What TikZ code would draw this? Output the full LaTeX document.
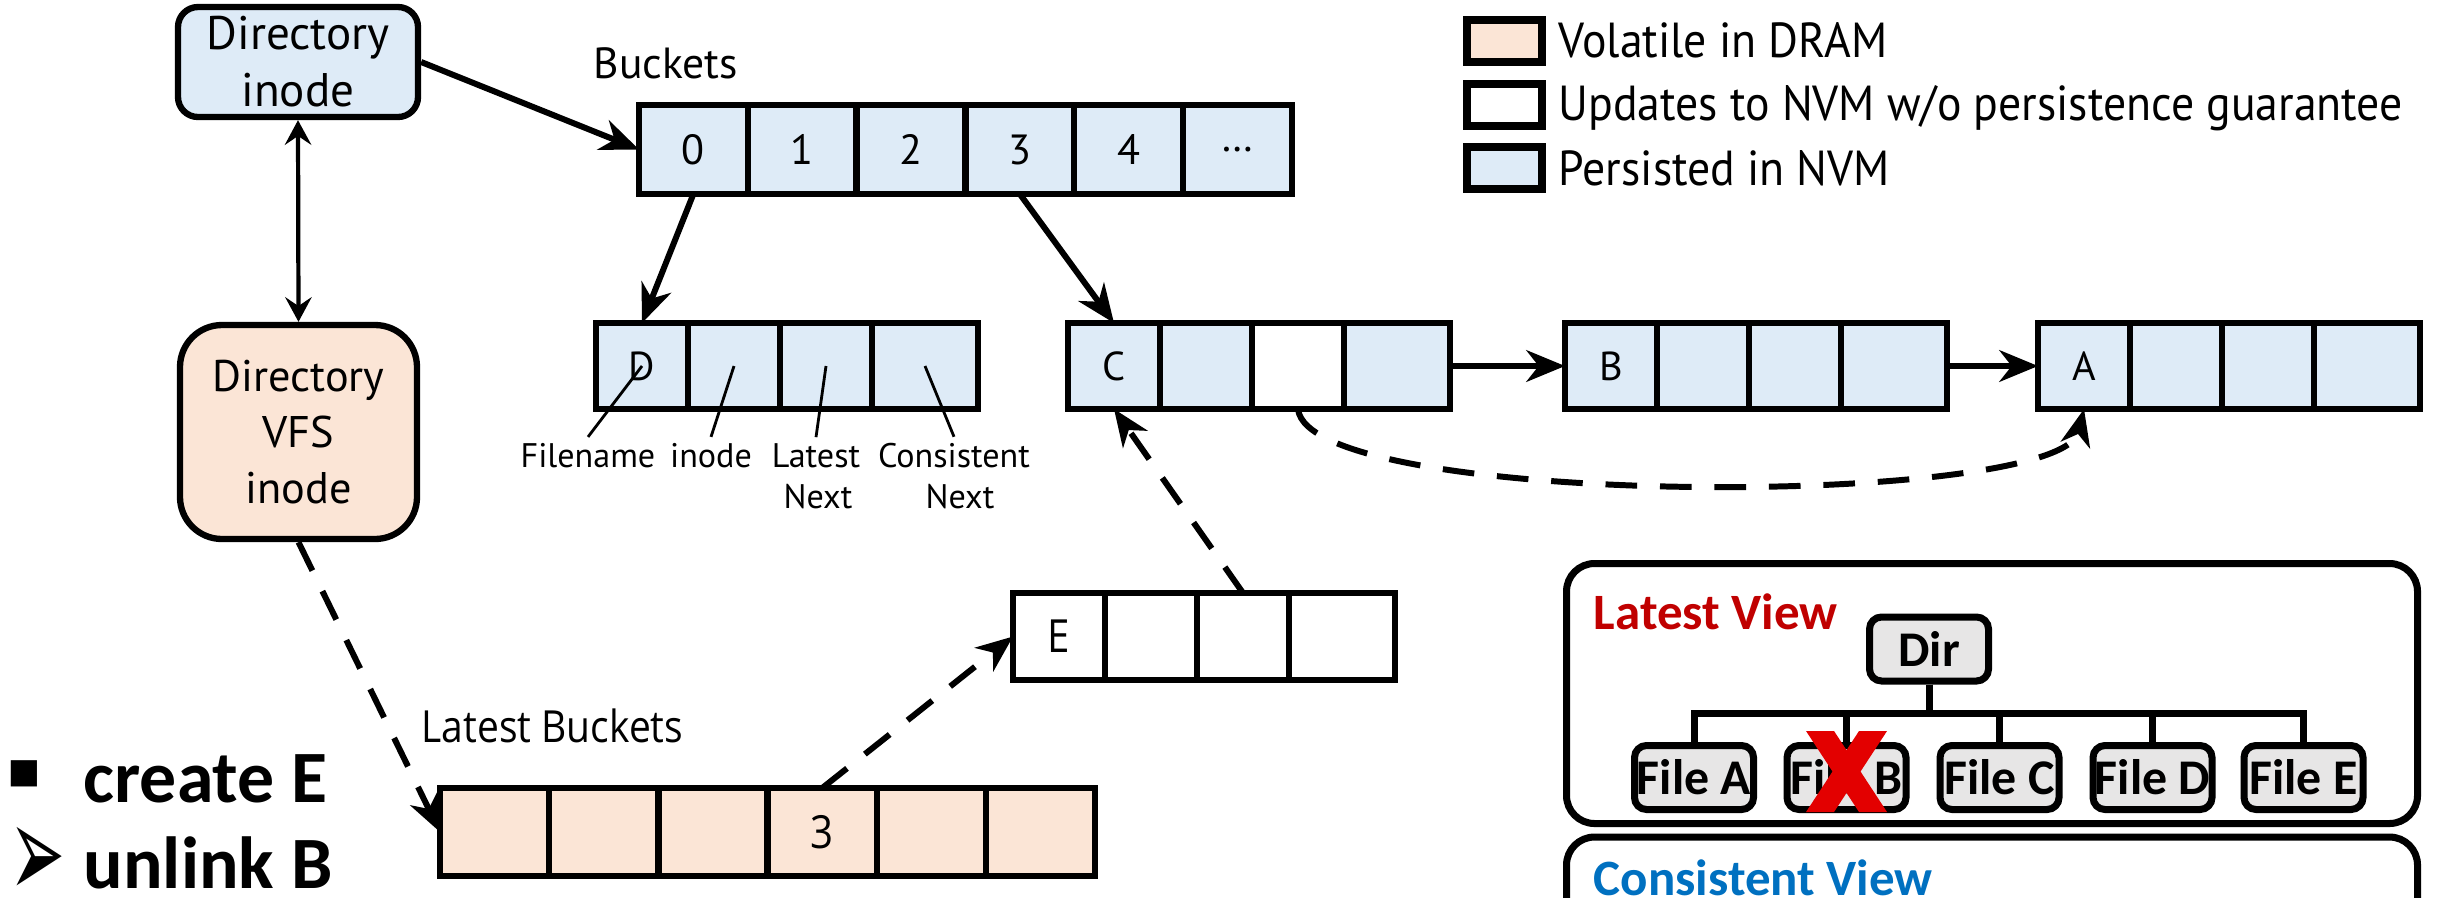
\documentclass[tikz,border=0pt]{standalone}
\usepackage{fontspec}
\setmainfont{PT Sans}
\newfontfamily\legendfont{PT Sans}[FakeStretch=0.93]
\newfontfamily\narrowfont{Open Sans}[FakeStretch=0.88]
\newfontfamily\boldfont{Carlito}
\newfontfamily\symfont{DejaVu Sans}
\usetikzlibrary{arrows.meta}

\definecolor{nvmblue}{HTML}{DEEBF7}
\definecolor{dramorange}{HTML}{FBE5D6}
\definecolor{viewgray}{HTML}{E7E6E6}
\definecolor{latestred}{HTML}{C00000}
\definecolor{consblue}{HTML}{0070C0}
\definecolor{xred}{HTML}{E30000}

\tikzset{
  cellbase/.style={draw, line width=1.8pt, inner sep=0pt, outer sep=0pt,
    anchor=north west, minimum height=0.86cm,
    font=\fontsize{11.5pt}{14pt}\selectfont},
  bcell/.style={cellbase, minimum width=1.088cm, minimum height=0.89cm, fill=nvmblue,
    font=\fontsize{12pt}{14pt}\selectfont},
  lcell/.style={cellbase, minimum width=1.092cm, minimum height=0.88cm, fill=dramorange,
    font=\narrowfont\fontsize{13pt}{15pt}\selectfont},
  ecell/.style={cellbase, minimum width=0.92cm},
  ecellwide/.style={cellbase, minimum width=1.06cm},
  inodebox/.style={draw, line width=1.8pt, align=center, inner sep=0pt,
    font=\fontsize{12.6pt}{16pt}\selectfont},
  lbl/.style={anchor=base, inner sep=1.5pt, font=\fontsize{9.7pt}{12pt}\selectfont},
  leader/.style={line width=0.8pt},
  solidarrow/.style={line width=1.7pt, -{Stealth[length=11pt,width=9pt,inset=3.5pt]}},
  dasharrow/.style={line width=1.7pt, dash pattern=on 9pt off 6.5pt,
    -{Stealth[length=10.5pt,width=8.5pt,inset=3.2pt]}},
  bothways/.style={line width=1.2pt,
    {Stealth[length=7pt,width=7.5pt,inset=2.5pt]}-{Stealth[length=7pt,width=7.5pt,inset=2.5pt]}},
  legbox/.style={draw, line width=2.2pt, minimum width=0.75cm, minimum height=0.42cm, inner sep=0pt},
  legtxt/.style={anchor=base west, inner sep=0pt, font=\legendfont\fontsize{14pt}{17pt}\selectfont},
  panel/.style={draw, line width=2pt, rounded corners=0.28cm, minimum width=8.51cm, inner sep=0pt},
  viewbox/.style={draw, line width=2pt, fill=viewgray, rounded corners=0.12cm,
    minimum width=1.19cm, minimum height=0.64cm, inner sep=0pt,
    font=\boldfont\bfseries\fontsize{14.2pt}{16pt}\selectfont},
  tree/.style={line width=2pt},
  cmdtxt/.style={anchor=base west, inner sep=0pt,
    font=\boldfont\bfseries\fontsize{21pt}{25pt}\selectfont},
  viewtitle/.style={anchor=base west, inner sep=0pt,
    font=\boldfont\bfseries\fontsize{14.5pt}{17pt}\selectfont},
}

\begin{document}
\begin{tikzpicture}
\useasboundingbox (0,0) rectangle (24.4,-8.97);
\clip (0,0) rectangle (24.4,-8.97);

% inodes
\node[inodebox, fill=nvmblue, minimum width=2.40cm, minimum height=1.10cm,
  rounded corners=0.2cm, font=\fontsize{13.4pt}{16.2pt}\selectfont]
  (dirinode) at (2.98,-0.62) {Directory\\inode};
\node[inodebox, fill=dramorange, minimum width=2.37cm, minimum height=2.14cm,
  rounded corners=0.42cm] (vfs) at (2.985,-4.32) {Directory\\VFS\\inode};

% hash buckets persisted in NVM
\node[anchor=base west, inner sep=0pt, font=\fontsize{12.4pt}{15pt}\selectfont]
  (bucketslbl) at (5.93,-0.78) {Buckets};
\node[bcell] (b0) at (6.39,-1.05) {0};
\node[bcell] (b1) at (b0.north east) {1};
\node[bcell] (b2) at (b1.north east) {2};
\node[bcell] (b3) at (b2.north east) {3};
\node[bcell] (b4) at (b3.north east) {4};
\node[bcell] (b5) at (b4.north east) {…};

% dentry D with field labels
\node[ecell, fill=nvmblue] (d1) at (5.96,-3.23) {D};
\node[ecell, fill=nvmblue] (d2) at (d1.north east) {};
\node[ecell, fill=nvmblue] (d3) at (d2.north east) {};
\node[ecellwide, fill=nvmblue] (d4) at (d3.north east) {};

\node[lbl] (lfile) at (5.88,-4.67) {Filename};
\node[lbl] (linode) at (7.11,-4.67) {inode};
\node[lbl] (llat) at (8.16,-4.67) {Latest};
\node[lbl] (llatn) at (8.18,-5.08) {Next};
\node[lbl] (lcon) at (9.54,-4.67) {Consistent};
\node[lbl] (lconn) at (9.60,-5.08) {Next};
\draw[leader] (lfile.north) -- (d1.center);
\draw[leader] (linode.north) -- (d2.center);
\draw[leader] (llat.north) -- (d3.center);
\draw[leader] (lcon.north) -- (d4.center);

% chain C -> B -> A
\node[ecell, fill=nvmblue] (c1) at (10.68,-3.23) {C};
\node[ecell, fill=nvmblue] (c2) at (c1.north east) {};
\node[ecell, fill=white] (c3) at (c2.north east) {};
\node[ecellwide, fill=nvmblue] (c4) at (c3.north east) {};

\node[ecell, fill=nvmblue] (bb1) at (15.65,-3.23) {B};
\node[ecell, fill=nvmblue] (bb2) at (bb1.north east) {};
\node[ecell, fill=nvmblue] (bb3) at (bb2.north east) {};
\node[ecellwide, fill=nvmblue] (bb4) at (bb3.north east) {};

\node[ecell, fill=nvmblue] (a1) at (20.38,-3.23) {A};
\node[ecell, fill=nvmblue] (a2) at (a1.north east) {};
\node[ecell, fill=nvmblue] (a3) at (a2.north east) {};
\node[ecellwide, fill=nvmblue] (a4) at (a3.north east) {};

% new dentry E (not yet persisted)
\node[ecell, fill=white, minimum height=0.87cm, font=\narrowfont\fontsize{13pt}{15pt}\selectfont]
  (e1) at (10.13,-5.93) {E};
\node[ecell, fill=white, minimum height=0.87cm] (e2) at (e1.north east) {};
\node[ecell, fill=white, minimum height=0.87cm] (e3) at (e2.north east) {};
\node[ecellwide, fill=white, minimum height=0.87cm] (e4) at (e3.north east) {};

% latest buckets in DRAM
\node[anchor=base west, inner sep=0pt, font=\narrowfont\fontsize{12.6pt}{15pt}\selectfont]
  (lbucketslbl) at (4.21,-7.42) {Latest Buckets};
\node[lcell] (lb0) at (4.40,-7.88) {};
\node[lcell] (lb1) at (lb0.north east) {};
\node[lcell] (lb2) at (lb1.north east) {};
\node[lcell] (lb3) at (lb2.north east) {3};
\node[lcell] (lb4) at (lb3.north east) {};
\node[lcell] (lb5) at (lb4.north east) {};

% pointers
\draw[bothways] (dirinode.south) -- (vfs.north);
\draw[solidarrow] (dirinode.east) -- (b0.west);
\draw[solidarrow] (b0.south) -- (d1.north);
\draw[solidarrow] (b3.south) -- (c1.north);
\draw[solidarrow] (c4.east) -- (bb1.west);
\draw[solidarrow] (bb4.east) -- (a1.west);
\draw[dasharrow] (c3.south) .. controls +(0.1,-1.0) and +(-0.24,-1.0) .. (a1.south);
\draw[dasharrow] (e3.north) -- (c1.south);
\draw[dasharrow] (lb3.north) -- (e1.west);
\draw[dasharrow] (vfs.south) -- (lb0.west);

% legend
\node[legbox, fill=dramorange] (lg1) at (15.045,-0.41) {};
\node[legbox, fill=white] (lg2) at (15.045,-1.05) {};
\node[legbox, fill=nvmblue] (lg3) at (15.045,-1.68) {};
\node[legtxt] (lgt1) at (15.58,-0.57) {Volatile in DRAM};
\node[legtxt] (lgt2) at (15.58,-1.20) {Updates to NVM w/o persistence guarantee};
\node[legtxt] (lgt3) at (15.58,-1.85) {Persisted in NVM};

% operations
\node[font=\symfont\fontsize{15pt}{18pt}\selectfont, inner sep=0pt] (bul1) at (0.245,-7.74) {▪};
\node[cmdtxt] (cmd1) at (0.83,-8.02) {create E};
\node[font=\symfont\fontsize{19pt}{22pt}\selectfont, inner sep=0pt] (bul2) at (0.37,-8.63)
  {\scalebox{1}[2]{➢}};
\node[cmdtxt] (cmd2) at (0.83,-8.88) {unlink B};

% views
\node[panel, minimum height=2.60cm] (latestpanel) at (19.92,-6.935) {};
\node[panel, minimum height=2.0cm, anchor=north] (conspanel) at (19.92,-8.335) {};
\node[viewtitle, text=latestred] (lvtitle) at (15.93,-6.29) {Latest View};
\node[viewtitle, text=consblue] (cvtitle) at (15.93,-8.95) {Consistent View};

\node[viewbox] (vdir) at (19.29,-6.49) {Dir};
\node[viewbox] (fa) at (16.94,-7.775) {File A};
\node[viewbox] (fb) at (18.465,-7.775) {File B};
\node[viewbox] (fc) at (19.995,-7.775) {File C};
\node[viewbox] (fd) at (21.525,-7.775) {File D};
\node[viewbox] (fe) at (23.035,-7.775) {File E};
\foreach \f in {fa,fb,fc,fd,fe}
  \draw[tree] (vdir.south) -- ++(0,-0.29) -| (\f.north);

% deleted mark over File B
\begin{scope}[shift={(fb.center)}]
  \fill[xred] (-0.405,0.465) -- (-0.125,0.465) -- (0.405,-0.345) -- (0.125,-0.345) -- cycle;
  \fill[xred] (0.125,0.465) -- (0.405,0.465) -- (-0.125,-0.345) -- (-0.405,-0.345) -- cycle;
\end{scope}
\end{tikzpicture}
\end{document}
